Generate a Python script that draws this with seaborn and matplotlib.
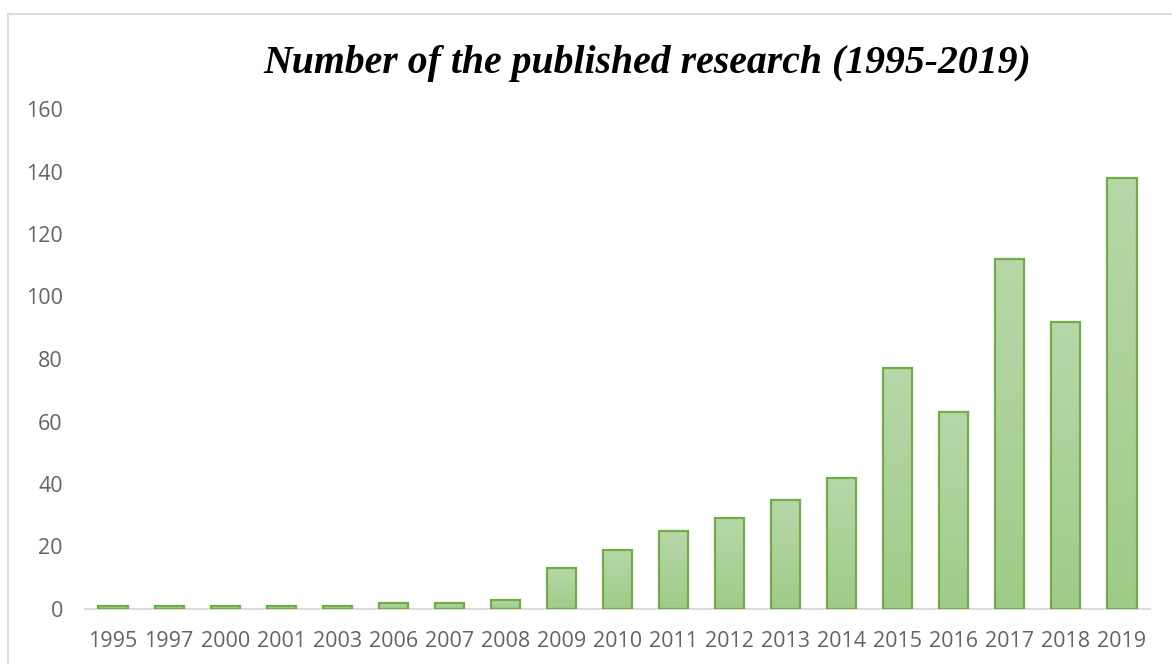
import numpy as np
import pandas as pd
import matplotlib
matplotlib.use("Agg")
import matplotlib.pyplot as plt
import seaborn as sns
from matplotlib.colors import LinearSegmentedColormap
from matplotlib.lines import Line2D

# data
years = ["1995", "1997", "2000", "2001", "2003", "2006", "2007", "2008", "2009",
         "2010", "2011", "2012", "2013", "2014", "2015", "2016", "2017", "2018", "2019"]
counts = [1, 1, 1, 1, 1, 2, 2, 3, 13, 19, 25, 29, 35, 42, 77, 63, 112, 92, 138]
y_ticks = [0, 20, 40, 60, 80, 100, 120, 140, 160]

df = pd.DataFrame({"year": years, "count": counts})

sns.set_theme(style="white")
plt.rcParams['font.family'] = ['Open Sans', 'DejaVu Sans']

fig = plt.figure(figsize=(11.72, 6.64), dpi=100)
ax = fig.add_axes([85 / 1172, 1 - 609 / 664, (1150 - 85) / 1172, (609 - 109) / 664])

sns.barplot(data=df, x="year", y="count", ax=ax, width=0.52,
            color="#a9d18e", edgecolor="#70ad47", linewidth=1.6, saturation=1)

# gradient fill, lighter on top, darker at the bottom
cmap = LinearSegmentedColormap.from_list("g", ["#9fcb88", "#b7d8a9"])
grad = np.linspace(0, 1, 256).reshape(-1, 1)
for p in ax.patches:
    x0, y0 = p.get_x(), p.get_y()
    w, h = p.get_width(), p.get_height()
    im = ax.imshow(grad, cmap=cmap, aspect="auto", origin="lower",
                   extent=[x0, x0 + w, y0, y0 + h], zorder=p.get_zorder() + 0.1)
    im.set_clip_path(p)
    p.set_facecolor("none")
    p.set_zorder(p.get_zorder() + 0.2)

ax.set_xlim(-0.5, len(years) - 0.5)
ax.set_ylim(0, 160)
ax.set_yticks(y_ticks)
ax.set_xlabel("")
ax.set_ylabel("")

for s in ["top", "right", "left"]:
    ax.spines[s].set_visible(False)
ax.spines["bottom"].set_color("#d9d9d9")
ax.spines["bottom"].set_linewidth(1.3)
ax.spines["bottom"].set_zorder(0.5)

ax.tick_params(axis="both", length=0, labelsize=15.5, labelcolor="#646464")
ax.tick_params(axis="x", pad=16)
ax.tick_params(axis="y", pad=16)

fig.text(0.552, 1 - 73 / 664, "Number of the published research (1995-2019)",
         ha="center", va="baseline", fontsize=28.6, fontweight="bold", fontstyle="italic",
         family=["Liberation Serif", "DejaVu Serif"], color="black")

# chart area border (top and left only, the rest is cropped)
fig.add_artist(Line2D([8 / 1172, 1.0], [1 - 14 / 664, 1 - 14 / 664],
                      transform=fig.transFigure, color="#d9d9d9", linewidth=1.3))
fig.add_artist(Line2D([8 / 1172, 8 / 1172], [0, 1 - 14 / 664],
                      transform=fig.transFigure, color="#d9d9d9", linewidth=1.3))

fig.savefig("out.png", dpi=100)
